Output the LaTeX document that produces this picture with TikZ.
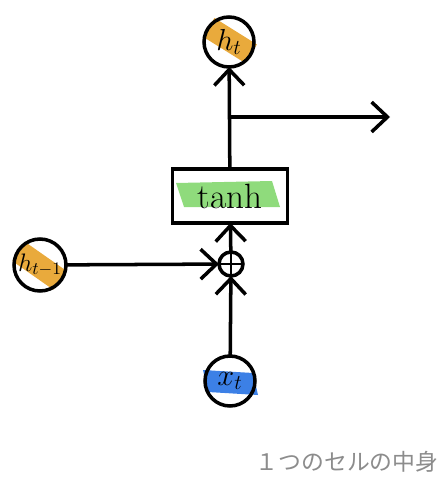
\documentclass[tikz,border=0pt]{standalone}
\usepackage{fontspec}
\newfontfamily\jpfont{Noto Sans CJK JP}
\usetikzlibrary{arrows.meta}
\definecolor{hlorange}{HTML}{E9AA3C}
\definecolor{hlgreen}{HTML}{8FDB7C}
\definecolor{hlblue}{HTML}{3C80E6}
\tikzset{
  unit/.style={circle, draw, line width=2pt, inner sep=0pt, outer sep=0pt, font=\fontsize{17}{19}\selectfont},
  flow/.style={line width=2pt, -{Straight Barb[length=9pt, width=17pt, line width=2pt]}}
}
\begin{document}
\begin{tikzpicture}[x=0.02cm, y=-0.02cm]
    \useasboundingbox (0,0) rectangle (445,483);

    % Highlights
    \fill[hlorange, rotate around={-32:(229,40)}] (205,29) rectangle (255,51);
    \fill[hlorange, rotate around={-35:(40,267)}] (14,255) rectangle (64,278);
    \fill[hlgreen] (176,183) -- (272,181) -- (280,207) -- (184,207) -- cycle;
    \fill[hlblue] (203,370) -- (253,373) -- (258,395) -- (208,392) -- cycle;

    % Nodes
    \node[unit, minimum size=1cm] (ht) at (229,42) {$h_t$};
    \node[unit, minimum size=1.04cm, font=\Large] (hprev) at (40,265) {$h_{t-1}$};
    \node[unit, minimum size=1cm] (xt) at (230,381) {$x_t$};
    \node[unit, minimum size=0.48cm] (plus) at (231,264) {};
    \node[draw, line width=2pt, outer sep=0pt, minimum width=2.3cm, minimum height=1.08cm, font=\fontsize{20}{22}\selectfont] (tanh) at (230,196) {$\tanh$};
    \coordinate (split) at (231,117);
    \coordinate (out) at (390,117);

    % Plus sign
    \draw[line width=1.4pt] (plus.north) -- (plus.south) (plus.west) -- (plus.east);

    % Connectors
    \draw[flow] (xt) -- (plus);
    \draw[flow] (hprev) -- (plus);
    \draw[flow] (plus) -- (tanh);
    \draw[flow] (tanh) -- (ht);
    \draw[flow] (split) -- (out);

    % Caption
    \node[text=black!45, font=\jpfont\fontsize{13}{15}\selectfont] (caption) at (347,462) {１つのセルの中身};
\end{tikzpicture}
\end{document}
